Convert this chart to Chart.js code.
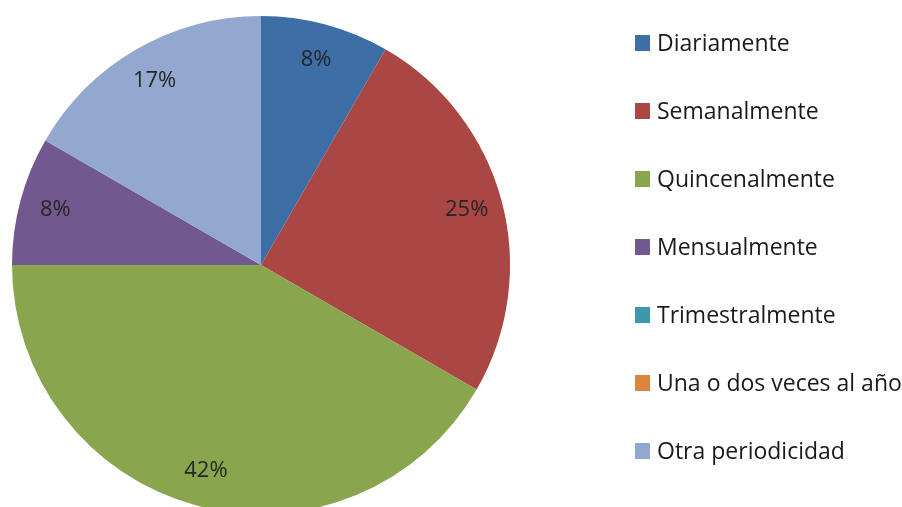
<!DOCTYPE html>
<html>
<head>
<meta charset="utf-8">
<script src="https://cdn.jsdelivr.net/npm/chart.js@4"></script>
<style>
  html, body { margin: 0; padding: 0; background: #fff; }
  #wrap { width: 902px; height: 507px; position: relative; }
</style>
</head>
<body>
<div id="wrap"><canvas id="grafico" width="902" height="507"></canvas></div>
<script>
// datos del grafico
const categorias = ['Diariamente', 'Semanalmente', 'Quincenalmente', 'Mensualmente', 'Trimestralmente', 'Una o dos veces al año', 'Otra periodicidad'];
const valores = [1, 3, 5, 1, 0, 0, 2];
const colores = ['#3D6EA6', '#AA4644', '#89A54E', '#71588F', '#3D97AF', '#DB843D', '#92A8CE'];

const fuente = '"Open Sans", Lato, sans-serif';

// etiquetas de porcentaje dentro de cada sector
const etiquetasPlugin = {
    id: 'etiquetas',
    afterDatasetsDraw(chart) {
        const ctx = chart.ctx;
        const meta = chart.getDatasetMeta(0);
        const total = valores.reduce((a, b) => a + b, 0);
        ctx.save();
        ctx.font = '22px ' + fuente;
        ctx.fillStyle = '#262626';
        ctx.textAlign = 'center';
        ctx.textBaseline = 'middle';
        meta.data.forEach((arc, i) => {
            if (!valores[i]) return;
            const p = arc.getProps(['x', 'y', 'startAngle', 'endAngle', 'outerRadius']);
            const medio = (p.startAngle + p.endAngle) / 2;
            const r = p.outerRadius * 0.855;
            const pct = Math.round(valores[i] / total * 100) + '%';
            ctx.fillText(pct, p.x + Math.cos(medio) * r, p.y + Math.sin(medio) * r);
        });
        ctx.restore();
    }
};

// leyenda a la derecha
const leyendaPlugin = {
    id: 'leyendaDerecha',
    afterDraw(chart) {
        const ctx = chart.ctx;
        ctx.save();
        ctx.font = '23px ' + fuente;
        ctx.textBaseline = 'middle';
        categorias.forEach((cat, i) => {
            const y = 43 + i * 68;
            ctx.fillStyle = colores[i];
            ctx.fillRect(635, y - 8, 15, 16);
            ctx.fillStyle = '#1a1a1a';
            ctx.fillText(cat, 657, y + 1);
        });
        ctx.restore();
    }
};

new Chart(document.getElementById('grafico'), {
    type: 'pie',
    data: {
        labels: categorias,
        datasets: [{
            data: valores,
            backgroundColor: colores,
            borderWidth: 0,
            radius: 249
        }]
    },
    options: {
        responsive: false,
        animation: false,
        layout: { padding: { left: 0, right: 380, top: 23, bottom: 0 } },
        plugins: {
            legend: { display: false },
            tooltip: { enabled: false }
        }
    },
    plugins: [etiquetasPlugin, leyendaPlugin]
});
</script>
</body>
</html>
